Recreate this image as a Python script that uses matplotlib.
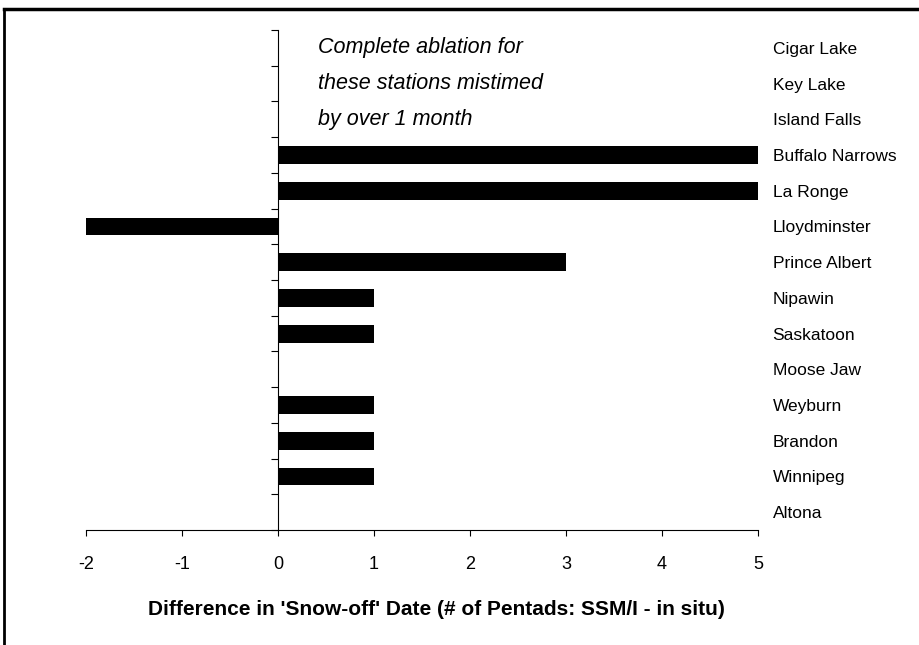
import matplotlib.pyplot as plt
import numpy as np
from matplotlib.lines import Line2D

plt.rcParams['font.family'] = ['Liberation Sans', 'DejaVu Sans']

# stations, top to bottom
stations = ['Cigar Lake', 'Key Lake', 'Island Falls', 'Buffalo Narrows',
            'La Ronge', 'Lloydminster', 'Prince Albert', 'Nipawin',
            'Saskatoon', 'Moose Jaw', 'Weyburn', 'Brandon', 'Winnipeg',
            'Altona']
# difference in snow-off date, pentads (SSM/I - in situ)
diff = [0, 0, 0, 5, 5, -2, 3, 1, 1, 0, 1, 1, 1, 0]
xticks = [-2, -1, 0, 1, 2, 3, 4, 5]
note = ['Complete ablation for', 'these stations mistimed', 'by over 1 month']

fig = plt.figure(figsize=(9.2, 6.45), dpi=100)
ax = fig.add_axes([86/920, 1-530/645, (758-86)/920, 500/645])

n = len(stations)
ys = np.arange(n)
ax.barh(ys, diff, height=0.5, color='black')

ax.set_xlim(-2, 5)
ax.set_ylim(n-0.5, -0.5)

# spines
ax.spines['top'].set_visible(False)
ax.spines['right'].set_visible(False)
ax.spines['left'].set_position(('data', 0))
ax.spines['left'].set_linewidth(0.8)
ax.spines['bottom'].set_linewidth(0.8)

# category labels on the right, boundary ticks on the zero line
ax.set_yticks(ys)
ax.set_yticklabels(stations)
ax.tick_params(axis='y', which='major', left=False, right=False,
               labelleft=False, labelright=True, pad=7, labelsize=12.5)
ax.set_yticks(np.arange(n+1)-0.5, minor=True)
ax.tick_params(axis='y', which='minor', left=True, right=False,
               direction='out', length=5, width=0.8)

ax.set_xticks(xticks)
ax.set_xticklabels([str(v) for v in xticks])
ax.tick_params(axis='x', direction='out', length=4, width=0.8,
               labelsize=13, pad=15)

ax.set_xlabel("Difference in 'Snow-off' Date (# of Pentads: SSM/I - in situ)",
              fontsize=15, fontweight='bold')
ax.xaxis.set_label_coords((436-86)/672, -70/500)

for i, line in enumerate(note):
    ax.text(0.42, i, line, fontsize=15.5, style='italic', va='center', ha='left')

# frame around the figure (clipped at right/bottom)
fig.add_artist(Line2D([4/920, 1], [1-9/645, 1-9/645], color='black', lw=2.5,
                      transform=fig.transFigure))
fig.add_artist(Line2D([4/920, 4/920], [0, 1-9/645], color='black', lw=2,
                      transform=fig.transFigure))

fig.savefig('out.png', dpi=100)
